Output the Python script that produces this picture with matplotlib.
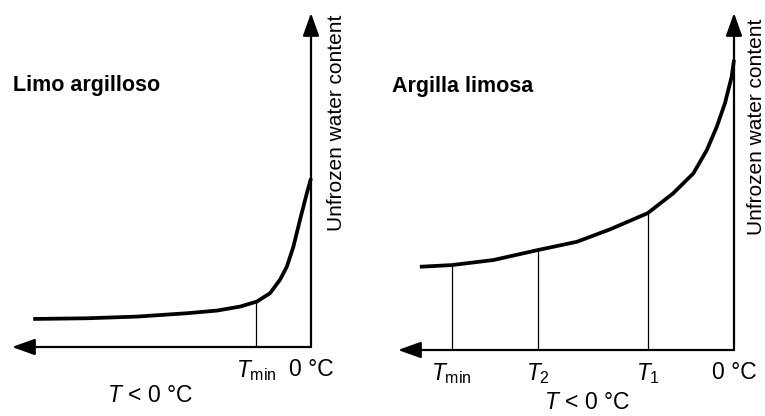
import matplotlib

matplotlib.use("Agg")
import matplotlib.pyplot as plt
import numpy as np

# Limo argilloso (clayey silt): temperature (arbitrary units, 0 = 0 °C) vs unfrozen water
silt_temp = [-9.29, -7.50, -5.83, -4.16, -3.15, -2.37, -1.81, -1.37, -1.04, -0.81, -0.59, -0.37, -0.14, 0.0]
silt_water = [0.84, 0.86, 0.91, 1.01, 1.09, 1.21, 1.36, 1.61, 2.01, 2.40, 3.00, 3.80, 4.60, 5.05]
silt_marks = [-1.84]
silt_labels = [r"$T_{\mathrm{min}}$", "0 °C"]

# Argilla limosa (silty clay)
clay_temp = [-9.35, -8.40, -7.16, -5.82, -4.68, -3.69, -2.57, -1.81, -1.21, -0.81, -0.51, -0.27, -0.07, 0.0]
clay_water = [2.47, 2.52, 2.67, 2.97, 3.21, 3.58, 4.06, 4.65, 5.24, 5.93, 6.63, 7.32, 8.11, 8.61]
clay_marks = [-8.40, -5.82, -2.57]
clay_labels = [r"$T_{\mathrm{min}}$", r"$T_2$", r"$T_1$", "0 °C"]

plt.rcParams["font.family"] = ["Liberation Sans", "DejaVu Sans"]
plt.rcParams["mathtext.fontset"] = "custom"
plt.rcParams["mathtext.rm"] = "Liberation Sans"
plt.rcParams["mathtext.it"] = "Liberation Sans:italic"

W, H = 765, 416


def panel(fig, box, temps, water, marks, labels, title, title_pos, xlab_pos, ylab_pos):
    x0, x1, y0, y1 = box  # pixel extents: left, right (0 °C), bottom (axis), top (arrow tip)
    ax = fig.add_axes([x0 / W, 1 - y0 / H, (x1 - x0) / W, (y0 - y1) / H])
    ax.set_xlim(-10, 0)
    ax.set_ylim(0, 10)
    for s in ax.spines.values():
        s.set_visible(False)
    ax.set_yticks([])

    arrow = dict(arrowstyle="-|>,head_length=0.7,head_width=0.25", lw=1.6,
                 color="black", mutation_scale=20, shrinkA=0, shrinkB=0)
    ax.annotate("", xy=(0, 10), xytext=(0, 0), arrowprops=arrow, annotation_clip=False)
    ax.annotate("", xy=(-10, 0), xytext=(0, 0), arrowprops=arrow, annotation_clip=False)

    ax.plot(temps, water, color="black", lw=2.7, solid_capstyle="butt",
            solid_joinstyle="round", clip_on=False)
    for m in marks:
        ax.plot([m, m], [0, np.interp(m, temps, water)], color="black", lw=0.9)

    ax.set_xticks(list(marks) + [0])
    ax.set_xticklabels(labels, fontsize=16.5)
    ax.tick_params(axis="x", length=0, pad=8)

    ax.text(title_pos[0], title_pos[1], title, transform=ax.transAxes,
            fontsize=15.5, fontweight="bold", va="baseline", ha="left")
    ax.text(xlab_pos[0], xlab_pos[1], r"$T$ < 0 °C", transform=ax.transAxes,
            fontsize=16.5, ha="center", va="center")
    ax.text(ylab_pos[0], ylab_pos[1], "Unfrozen water content", transform=ax.transAxes,
            fontsize=15, rotation=90, ha="center", va="center", clip_on=False)
    return ax


fig = plt.figure(figsize=(W / 100, H / 100), dpi=100)
panel(fig, (12, 311, 347, 13), silt_temp, silt_water, silt_marks, silt_labels,
      "Limo argilloso", (0.003, 0.766), (0.462, -0.144), (1.084, 0.671))
panel(fig, (398, 734, 350, 13), clay_temp, clay_water, clay_marks, clay_labels,
      "Argilla limosa", (-0.018, 0.766), (0.5625, -0.157), (1.068, 0.662))

fig.savefig("out.png", dpi=100)
